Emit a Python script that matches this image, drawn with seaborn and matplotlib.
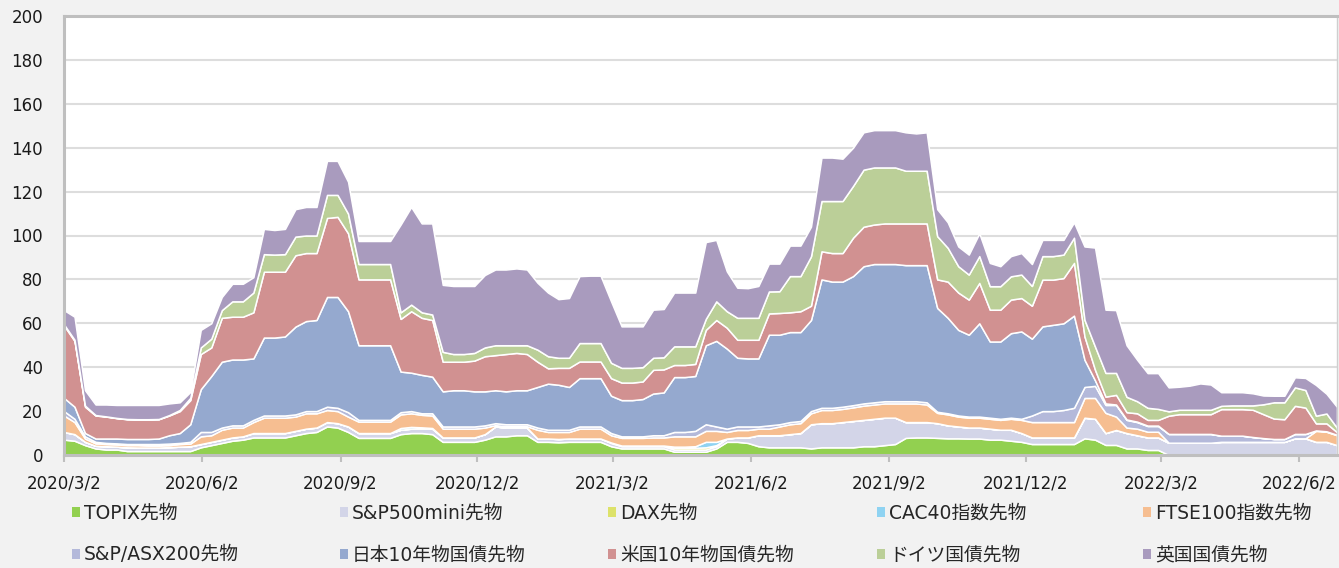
import pandas as pd
import matplotlib
matplotlib.use('Agg')
import matplotlib.pyplot as plt
from matplotlib.patches import Patch
import seaborn as sns

# weekly points from 2020/3/2 to 2022/6/27
dates = pd.date_range('2020-03-02', periods=122, freq='7D')

topix = [7, 6.5, 4.5, 3, 2.5, 2.5, 1.8, 1.8, 1.8, 1.8,
         1.8, 1.8, 1.8, 3.5, 4.5, 5.5, 6.5, 7, 8, 8,
         8, 8, 9, 10, 10.5, 13, 12.5, 10.5, 7.8, 7.8,
         7.8, 7.8, 9.5, 10, 10, 9.5, 6, 6, 6, 6,
         7, 8.5, 8.5, 9, 9, 6, 6, 5.8, 6, 6,
         6, 6, 4, 3, 3, 3, 3, 3, 1.5, 1.5,
         1.5, 1.5, 3, 6, 6, 5.5, 4, 3.5, 3.5, 3.5,
         3.5, 3, 3.5, 3.5, 3.5, 3.5, 4, 4, 4.5, 5,
         7.8, 8, 8, 7.8, 7.6, 7.6, 7.5, 7.5, 7, 7,
         6.5, 6, 5, 5, 5, 5, 5, 7.6, 7, 4.6,
         4.6, 3, 3, 2.3, 2.3, 0, 0, 0, 0, 0,
         0, 0, 0, 0, 0, 0, 0, 0, 0, 0,
         0, 0]
sp500 = [3.5, 3, 1.5, 1.2, 1.5, 1.3, 1.7, 1.6, 1.6, 1.6,
         1.8, 2, 2.2, 1.5, 1.5, 1.5, 1.5, 1.5, 2, 2,
         2, 2, 2, 2, 2, 2, 2, 2.5, 2.2, 2.2,
         2.2, 2.2, 2, 2, 2, 2.5, 2, 2, 2, 2,
         2.5, 4.5, 4, 3.5, 3.5, 1.5, 1.5, 1.5, 1.5, 1.5,
         1.5, 1.5, 1.5, 1, 1, 1, 1, 1, 1, 1,
         1, 1, 1, 1.5, 2, 2.5, 5, 5.5, 5.5, 6,
         6.5, 11, 11, 11, 11.5, 12, 12, 12.5, 12.5, 12,
         7.2, 7, 7, 6.7, 5.9, 5.4, 5, 5, 5, 4.5,
         5, 4, 3, 3, 3, 3, 3, 9.4, 9.5, 5.4,
         6.8, 7, 6, 5.7, 5.7, 5.6, 5.6, 5.6, 5.6, 5.6,
         6, 6, 6, 6, 6, 6, 6, 7.6, 7.6, 6,
         6, 4.5]
dax = [0] * 52 + [0.2, 0.3, 0.3, 0.3, 0.3, 0.3, 0.8, 0.8,
                  0.8, 1, 0.5] + [0] * 59
cac = [0] * 32 + [0.8, 0.8, 0.6, 0.3] + [0] * 22 + [0.5, 0.5,
                                                     0.7, 2.5, 1.5] + [0] * 59
ftse = [7.5, 5.5, 1.5, 1.1, 1, 1, 1, 1.1, 0.9, 0.9,
        0.9, 1.2, 1.2, 3.5, 3, 4.5, 4.5, 4, 5, 7,
        7, 7, 6.5, 7, 6.5, 5.5, 5.5, 4.5, 5.2, 5.2,
        5.2, 5.2, 6.2, 6.2, 5.7, 5.7, 4, 4, 4, 4,
        3, 0.6, 0.6, 0.6, 0.6, 4, 3, 3.2, 3, 4.5,
        4.5, 4.5, 3.3, 3.5, 3.5, 3.5, 3.7, 3.7, 4.7, 4.7,
        4.5, 5, 5, 3, 3.4, 3.4, 3, 3, 4, 4.5,
        4.5, 5, 6, 6, 6, 6.2, 6.5, 6.5, 6.5, 6.5,
        8.5, 8.5, 8, 4.7, 5, 4.5, 4.5, 4.5, 4.5, 4.5,
        5, 6, 7, 7, 7, 7, 7, 9, 9.5, 9.2,
        6.1, 2.5, 3, 2.6, 2.6, 0, 0, 0, 0, 0,
        0, 0, 0, 0, 0, 0, 0, 0, 0, 5,
        4.6, 4.5]
asx = [2, 1.5, 1, 0.7, 0.5, 0.5, 0.5, 0.5, 0.7, 0.7,
       0.7, 0.5, 0.8, 2, 1.5, 1, 1, 1, 1, 1,
       1, 1, 1, 1, 1, 1.5, 1.5, 2, 0.8, 0.8,
       0.8, 0.8, 1, 1, 0.7, 1, 1, 1, 1, 1,
       1, 0.9, 0.9, 0.9, 0.9, 1, 1, 1, 1, 1,
       1, 1, 1, 0.7, 0.7, 0.7, 1, 1, 2, 2,
       2.5, 3, 2, 1.5, 1.6, 1.6, 1, 1.5, 1, 1,
       1, 1, 1, 1, 1, 1, 1, 1, 1, 1,
       1, 1, 1, 0.5, 0.5, 0.5, 0.5, 0.5, 0.5, 0.5,
       0.5, 0.5, 3, 5, 5, 5.5, 6.5, 5, 5.5, 3.6,
       5.3, 3.5, 3, 2.6, 2.6, 4, 4, 4, 4, 4,
       2.8, 2.8, 2.8, 2.2, 1.7, 1.3, 1.3, 2, 2, 0.2,
       0.2, 0.2]
jgb = [6, 5.5, 1.5, 1.5, 2, 2.2, 2.3, 2.3, 2.3, 2.5,
       3.8, 4.5, 8, 19.5, 25.5, 30, 30, 30, 28, 35.5,
       35.5, 36, 40, 41, 41.5, 50, 50.5, 46, 34, 34,
       34, 34, 18.5, 17.5, 17.5, 16.7, 16, 16.5, 16.5, 16,
       15.5, 15, 15, 15.5, 15.5, 18.5, 21, 20.5, 19.5, 22,
       22, 22, 17, 16.5, 16.5, 17, 19, 19.5, 25, 25,
       25, 36, 39, 36.5, 31.3, 31, 31, 41.3, 40.8, 41,
       40.5, 41.5, 58.5, 57.5, 57, 58.8, 62.5, 63, 62.5, 62.5,
       62, 62, 62.5, 47.3, 43.5, 39, 37.3, 42.5, 34.7, 35.2,
       38.5, 39.8, 35, 38.6, 39.3, 39.5, 42, 12.4, 2.5, 0.7,
       0.2, 0.2, 0.2, 0.2, 0.2, 0, 0, 0, 0, 0,
       0, 0, 0, 0, 0, 0, 0, 0, 0, 0,
       0, 0]
us10 = [33, 30, 12, 10.5, 10, 9.3, 9, 8.9, 8.9, 8.8,
        9, 10, 11, 16, 13, 20, 19.5, 19.5, 21, 30,
        30, 29.5, 32.5, 31, 30.5, 36, 36.5, 35.5, 30, 30,
        30, 30, 24, 28, 26, 25.8, 13.5, 13, 13, 14,
        16, 16, 17, 17, 16.5, 11.5, 7, 7.7, 8.7, 7.6,
        7.6, 7.6, 8, 8, 8, 8, 10.8, 10.5, 5.5, 5.5,
        5.5, 7, 9.5, 9.5, 8.2, 8.5, 8.5, 9.7, 9.9, 9,
        9.5, 6.5, 12.8, 13, 13, 17.5, 18, 18, 18.5, 18.5,
        19, 19, 19, 13, 16.5, 17, 16, 18.4, 14.5, 14.5,
        15.3, 15.2, 15, 21.3, 20.6, 20.6, 24, 10.6, 4.8, 3.1,
        4.4, 3.3, 3.8, 2.6, 2.6, 8.3, 9, 9, 9, 9,
        12.1, 12.1, 12.1, 12.4, 10.9, 9.3, 9, 12.8, 12, 3.2,
        3.6, 1.2]
bund = [0.5, 0.5, 0.5, 0.2, 0.1, 0.1, 0.1, 0.1, 0.1, 0.1,
        0.2, 0.5, 1, 3, 4, 3.5, 7, 7, 9, 8,
        7.8, 8, 8.5, 8, 8, 10.5, 10, 9, 7, 7,
        7, 7, 3, 3, 2.5, 2.5, 4.5, 3.5, 3.5, 3.5,
        4, 4.5, 4, 3.5, 4, 5.5, 5.5, 4.6, 4.6, 8.4,
        8.4, 8.4, 7, 6.7, 6.7, 6.5, 5.5, 5.5, 8.5, 8.5,
        8, 5, 8.5, 7.5, 10, 10, 10, 10, 9.9, 16.5,
        16, 22.5, 22.9, 23.7, 23.7, 23.6, 26, 26, 25.5, 25.5,
        24, 24, 24, 19.7, 15.4, 12, 11.4, 12.2, 10.7, 10.7,
        10.6, 10.7, 9, 10.7, 10.7, 10.7, 11.5, 7.6, 10.6, 10.8,
        10, 7, 5.5, 5.5, 5, 2, 2, 2, 2, 2,
        1.5, 1.7, 1.7, 2, 4.5, 7.4, 7.7, 8.4, 8, 3.5,
        4.5, 2]
gilt = [6.5, 10.5, 7, 4.8, 5.4, 5.9, 6.4, 6.5, 6.5, 6.4,
        5.3, 3.5, 2.7, 8, 7, 6, 8, 8, 7, 11.5,
        11.2, 11.5, 12.5, 13, 13, 15.5, 15.5, 14.5, 10.5, 10.5,
        10.5, 10.5, 40, 44.5, 40.5, 41.5, 30.5, 31, 31, 30.5,
        33, 34.5, 34.5, 35, 34.5, 30.5, 29, 26.7, 27.2, 30.5,
        30.7, 30.7, 28, 18.9, 18.9, 18.6, 21.9, 22, 24.5, 24.5,
        24.5, 35, 28, 18.2, 13.7, 13.5, 14.5, 12.7, 12.6, 13.9,
        13.9, 13.5, 19.8, 19.8, 19.3, 17.4, 17, 17, 17, 17,
        17.5, 17, 17.5, 12.3, 11.6, 9, 9.1, 10.4, 10.6, 9.1,
        9.2, 9.8, 10, 7.4, 7.4, 6.7, 7, 33.4, 45.1, 28.8,
        28.6, 23.5, 18.9, 15.8, 16.3, 10.9, 10.5, 11, 12, 11.5,
        6.2, 6, 6, 5.5, 4, 3, 3, 4.6, 5.5, 14,
        9, 9.5]

labels = ['TOPIX先物', 'S&P500mini先物', 'DAX先物', 'CAC40指数先物', 'FTSE100指数先物',
          'S&P/ASX200先物', '日本10年物国債先物', '米国10年物国債先物', 'ドイツ国債先物', '英国国債先物']
colors = ['#92D050', '#D3D5E8', '#DDE26A', '#8FD3F2', '#F6BE91',
          '#B4B9DA', '#95A9CF', '#D19191', '#BBCF98', '#A99BBE']
tick_dates = ['2020-03-02', '2020-06-02', '2020-09-02', '2020-12-02', '2021-03-02',
              '2021-06-02', '2021-09-02', '2021-12-02', '2022-03-02', '2022-06-02']
tick_labels = ['2020/3/2', '2020/6/2', '2020/9/2', '2020/12/2', '2021/3/2',
               '2021/6/2', '2021/9/2', '2021/12/2', '2022/3/2', '2022/6/2']

sns.set_theme(style='white')
plt.rcParams['font.family'] = ['DejaVu Sans', 'Noto Sans CJK JP']

W, H = 1339, 568
fig = plt.figure(figsize=(W / 100, H / 100), dpi=100, facecolor='#F2F2F2')
ax = fig.add_axes([64 / W, 1 - 455 / H, (1337 - 64) / W, (455 - 16) / H])
ax.set_facecolor('white')

series = [topix, sp500, dax, cac, ftse, asx, jgb, us10, bund, gilt]
ax.stackplot(dates, *series, colors=colors, edgecolor='white', linewidth=1.1)

ax.set_ylim(0, 200)
ax.set_yticks(range(0, 201, 20))
ax.set_xlim(dates[0], dates[-1])
ax.set_xticks(pd.to_datetime(tick_dates))
ax.set_xticklabels(tick_labels)
ax.yaxis.grid(True, color='#DDDDDD', linewidth=1.5)
ax.xaxis.grid(False)
ax.set_axisbelow(True)

for side in ['left', 'top', 'bottom']:
    ax.spines[side].set_color('#BFBFBF')
    ax.spines[side].set_linewidth(2.2)
ax.spines['right'].set_color('#CFCFCF')
ax.spines['right'].set_linewidth(1)

ax.tick_params(axis='x', direction='out', length=5, width=1.5, color='#BFBFBF',
               labelsize=12, pad=9, labelcolor='#1a1a1a', bottom=True)
ax.tick_params(axis='y', length=0, labelsize=12, pad=15, labelcolor='#1a1a1a')

# legend: 2 rows x 5 columns, each entry placed in its own slot
col_x = [72, 340, 608, 877, 1143]
row_y = [513, 555]
for i, (lab, col) in enumerate(zip(labels, colors)):
    r, c = divmod(i, 5)
    fig.legend(handles=[Patch(facecolor=col, edgecolor='none', label=lab)],
               loc='center left', bbox_to_anchor=(col_x[c] / W, 1 - row_y[r] / H),
               frameon=False, fontsize=13.5, handlelength=0.45, handleheight=0.45,
               handletextpad=0.2, borderpad=0, borderaxespad=0)

fig.savefig('out.png', dpi=100, facecolor=fig.get_facecolor())
